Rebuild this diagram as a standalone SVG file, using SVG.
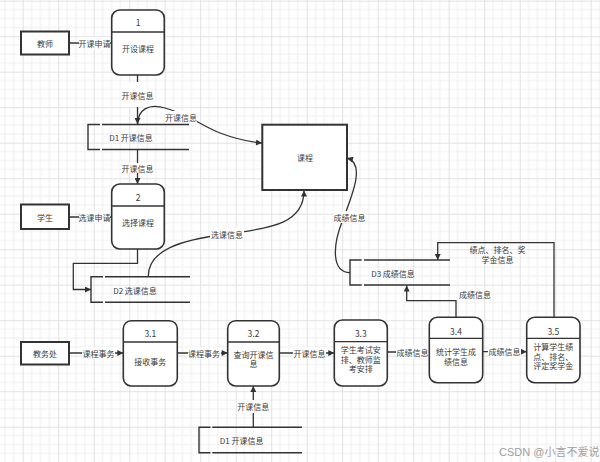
<svg xmlns="http://www.w3.org/2000/svg" width="600" height="462" viewBox="0 0 600 462">
<defs>
<pattern id="grid" patternUnits="userSpaceOnUse" x="22.7" y="0.7" width="35.5" height="35.5">
<rect width="35.5" height="35.5" fill="#fff"/>
<path d="M8.875,0V35.5M17.75,0V35.5M26.625,0V35.5M0,8.875H35.5M0,17.75H35.5M0,26.625H35.5" stroke="#efefef" stroke-width="1"/>
<path d="M0.5,0V35.5M0,0.5H35.5" stroke="#e2e2e2" stroke-width="1"/>
</pattern>
<marker id="ah" viewBox="0 0 10 10" refX="10" refY="5" markerWidth="7" markerHeight="6" orient="auto" markerUnits="userSpaceOnUse">
<path d="M0,0 L10,5 L0,10 z" fill="#333"/>
</marker>
</defs>
<style>
text{font-family:"Noto Sans CJK SC","Noto Sans",sans-serif;font-size:8px;fill:#3a3a3a;text-anchor:middle;dominant-baseline:central}
.ent{fill:#fff;stroke:#333;stroke-width:2}
.proc{fill:#fff;stroke:#333;stroke-width:1.6}
.div{stroke:#333;stroke-width:1.3}
.st{fill:none;stroke:#333;stroke-width:1.4}
.cn{fill:none;stroke:#333;stroke-width:1.3}
.bg{fill:#fff}
.wm{font-family:"Liberation Sans","Noto Sans CJK SC",sans-serif;font-size:11px;fill:#a0a0a0;text-anchor:start}
</style>
<rect width="600" height="462" fill="url(#grid)"/>

<g id="connectors">
<!-- 教师 -> 1 -->
<line class="cn" x1="69" y1="43" x2="111.7" y2="43"/>
<rect class="bg" x="79" y="37" width="31" height="12"/>
<text x="94.5" y="43">开课申请</text>
<!-- 1 -> D1 -->
<line class="cn" x1="137.5" y1="75" x2="137.5" y2="124" marker-end="url(#ah)"/>
<rect class="bg" x="128" y="82" width="19" height="25"/>
<text x="137.5" y="95">开课信息</text>
<!-- D1 -> 课程 -->
<path class="cn" d="M137.5,124 C138,110 148,103 165,108 C190,115 200,125 220,133 C236,139 250,142 262,143" marker-end="url(#ah)"/>
<rect class="bg" x="165" y="111" width="32" height="12"/>
<text x="181" y="117">开课信息</text>
<!-- D1 -> 2 -->
<line class="cn" x1="137.5" y1="149.5" x2="137.5" y2="184" marker-end="url(#ah)"/>
<rect class="bg" x="121" y="163" width="33" height="10"/>
<text x="137.5" y="168">开课信息</text>
<!-- 学生 -> 2 -->
<line class="cn" x1="69" y1="217" x2="111.7" y2="217"/>
<rect class="bg" x="79" y="211" width="31" height="12"/>
<text x="94.5" y="217">选课申请</text>
<!-- 2 -> D2 -->
<polyline class="cn" points="137.5,249 137.5,263.3 73.3,263.3 73.3,289.5 91,289.5" marker-end="url(#ah)"/>
<!-- D2 -> 课程 -->
<path class="cn" d="M148.3,276.7 C148,250 180,240 227,234 C275,228 304,222 304,190.5" marker-end="url(#ah)"/>
<rect class="bg" x="210" y="228" width="34" height="12"/>
<text x="227" y="234">选课信息</text>
<!-- D3 -> 课程 -->
<path class="cn" d="M350,272.7 C331,272 333,245 342,222 C352,196 366,163 347,158" marker-end="url(#ah)"/>
<rect class="bg" x="333" y="211" width="33" height="12"/>
<text x="349.5" y="217">成绩信息</text>
<!-- 3.5 -> D3 -->
<polyline class="cn" points="554,317.3 554,242.7 437.7,242.7 437.7,260" marker-end="url(#ah)"/>
<text x="497.5" y="249.5">绩点、排名、奖</text>
<text x="497.5" y="259.1">学金信息</text>
<!-- 3.4 -> D3 -->
<polyline class="cn" points="456,317.3 456,300.7 406.7,300.7 406.7,285.5" marker-end="url(#ah)"/>
<text x="475" y="294">成绩信息</text>
<!-- 教务处 -> 3.1 -->
<line class="cn" x1="69" y1="353" x2="123.3" y2="353" marker-end="url(#ah)"/>
<rect class="bg" x="82" y="347" width="33" height="12"/>
<text x="98.5" y="353">课程事务</text>
<!-- 3.1 -> 3.2 -->
<line class="cn" x1="177.3" y1="353" x2="227.7" y2="353" marker-end="url(#ah)"/>
<rect class="bg" x="188" y="347" width="33" height="12"/>
<text x="204" y="353">课程事务</text>
<!-- 3.2 -> 3.3 -->
<line class="cn" x1="279.3" y1="353" x2="334.3" y2="353" marker-end="url(#ah)"/>
<rect class="bg" x="293" y="347" width="33" height="12"/>
<text x="309.5" y="353">开课信息</text>
<!-- 3.3 -> 3.4 -->
<line class="cn" x1="387.3" y1="352" x2="429.3" y2="352" marker-end="url(#ah)"/>
<rect class="bg" x="396" y="346" width="33" height="12"/>
<text x="412.5" y="352">成绩信息</text>
<!-- 3.4 -> 3.5 -->
<line class="cn" x1="482.7" y1="351.7" x2="526.7" y2="351.7" marker-end="url(#ah)"/>
<rect class="bg" x="488" y="346" width="33" height="12"/>
<text x="504.5" y="351.7">成绩信息</text>
<!-- D1 -> 3.2 -->
<line class="cn" x1="253.3" y1="427.3" x2="253.3" y2="386" marker-end="url(#ah)"/>
<rect class="bg" x="237" y="400" width="33" height="13"/>
<text x="253.3" y="406.7">开课信息</text>
</g>

<g id="teacher"><rect class="ent" x="21" y="31.5" width="48" height="23"/><text x="45" y="43">教师</text></g>
<g id="student"><rect class="ent" x="21" y="204.5" width="48" height="24.5"/><text x="45" y="217">学生</text></g>
<g id="office"><rect class="ent" x="21" y="342" width="48" height="22.5"/><text x="45" y="353">教务处</text></g>
<g id="course"><rect class="ent" x="262.3" y="124.7" width="84.7" height="65.3"/><text x="305" y="157">课程</text></g>

<g id="p1"><rect class="proc" x="111.7" y="10" width="52.6" height="65" rx="8"/><line class="div" x1="111.7" y1="32" x2="164.3" y2="32"/><text x="138" y="22" style="font-size:8.5px">1</text><text x="138" y="48.5">开设课程</text></g>
<g id="p2"><rect class="proc" x="111.7" y="184" width="52.6" height="65" rx="8"/><line class="div" x1="111.7" y1="206" x2="164.3" y2="206"/><text x="138" y="196.5" style="font-size:8.5px">2</text><text x="138" y="222.5">选择课程</text></g>
<g id="p31"><rect class="proc" x="123.3" y="320.7" width="54" height="65.3" rx="8"/><line class="div" x1="123.3" y1="342" x2="177.3" y2="342"/><text x="150.3" y="333" style="font-size:8.5px">3.1</text><text x="150.3" y="361">接收事务</text></g>
<g id="p32"><rect class="proc" x="227.7" y="320.7" width="51.6" height="65.3" rx="8"/><line class="div" x1="227.7" y1="342" x2="279.3" y2="342"/><text x="253.5" y="333" style="font-size:8.5px">3.2</text><text x="253.5" y="354">查询开课信</text><text x="253.5" y="363.6">息</text></g>
<g id="p33"><rect class="proc" x="334.3" y="320" width="53" height="66" rx="8"/><line class="div" x1="334.3" y1="341.7" x2="387.3" y2="341.7"/><text x="360.8" y="333" style="font-size:8.5px">3.3</text><text x="360.8" y="349.3">学生考试安</text><text x="360.8" y="359">排、教师监</text><text x="360.8" y="368.7">考安排</text></g>
<g id="p34"><rect class="proc" x="429.3" y="317.3" width="53.4" height="65.4" rx="8"/><line class="div" x1="429.3" y1="338.3" x2="482.7" y2="338.3"/><text x="456" y="330.5" style="font-size:8.5px">3.4</text><text x="456" y="351.4">统计学生成</text><text x="456" y="361.1">绩信息</text></g>
<g id="p35"><rect class="proc" x="526.7" y="317.3" width="53.3" height="65.4" rx="8"/><line class="div" x1="526.7" y1="338.3" x2="580" y2="338.3"/><text x="553.3" y="346.4">计算学生绩</text><text x="553.3" y="330.5" style="font-size:8.5px">3.5</text><text x="553.3" y="356.1">点、排名、</text><text x="553.3" y="365.8">评定奖学金</text></g>

<g id="d1"><path class="st" d="M100,124.5 H88 V149.5 H100 M102,124.5 H189 M102,149.5 H189"/><text x="131" y="137">D1 开课信息</text></g>
<g id="d2"><path class="st" d="M103,276.7 H91 V302.3 H103 M105,276.7 H190 M105,302.3 H190"/><text x="135" y="290">D2 选课信息</text></g>
<g id="d3"><path class="st" d="M361.7,260 H350 V285 H361.7 M364,260 H450 M364,285 H450"/><text x="393" y="273.3">D3 成绩信息</text></g>
<g id="d1b"><path class="st" d="M210.5,427.3 H199 V452.7 H210.5 M212.3,427.3 H302 M212.3,452.7 H302"/><text x="241.7" y="440">D1 开课信息</text></g>

<text class="wm" x="499" y="452">CSDN @小言不爱说</text>
</svg>
